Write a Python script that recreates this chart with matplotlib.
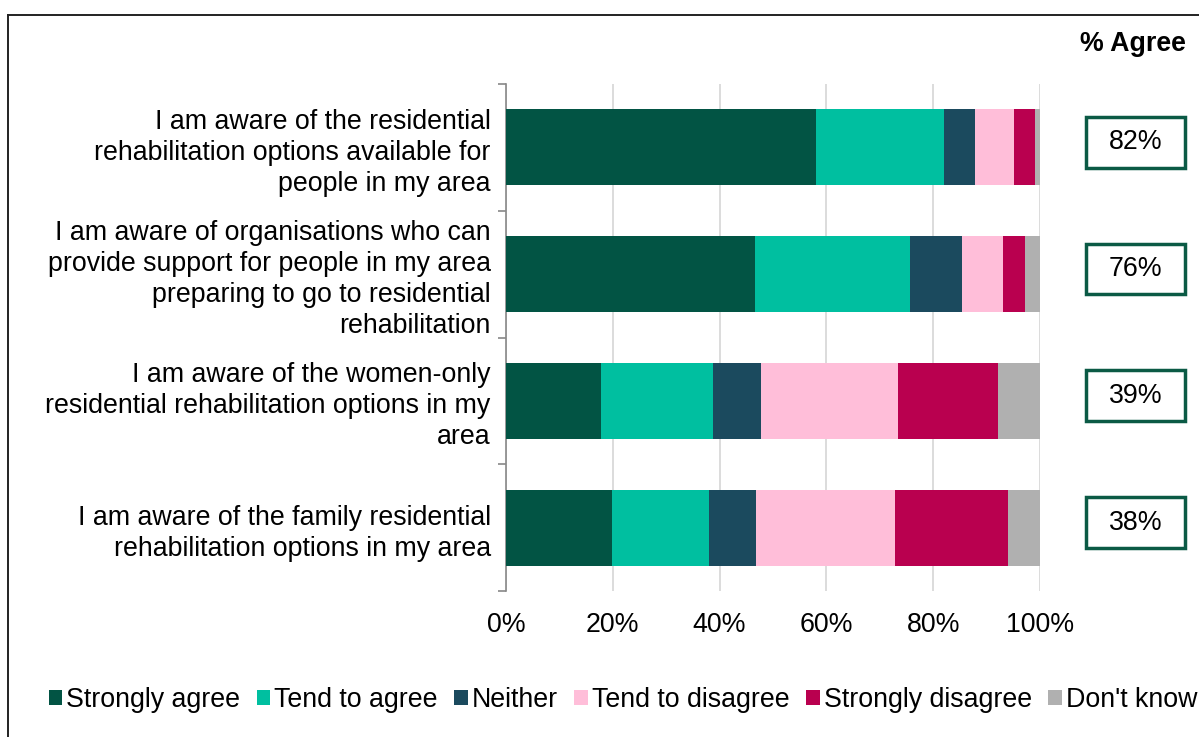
import numpy as np
import matplotlib
import matplotlib.pyplot as plt
from matplotlib.patches import Rectangle
from matplotlib.lines import Line2D
import matplotlib.transforms as mtransforms

matplotlib.use('Agg')

plt.rcParams['font.family'] = ['Liberation Sans', 'DejaVu Sans']

statements = [
    "I am aware of the residential\nrehabilitation options available for\npeople in my area",
    "I am aware of organisations who can\nprovide support for people in my area\npreparing to go to residential\nrehabilitation",
    "I am aware of the women-only\nresidential rehabilitation options in my\narea",
    "I am aware of the family residential\nrehabilitation options in my area",
]
responses = ["Strongly agree", "Tend to agree", "Neither",
             "Tend to disagree", "Strongly disagree", "Don't know"]

strongly_agree    = [58.1, 46.7, 17.8, 19.9]
tend_to_agree     = [23.9, 29.0, 21.0, 18.1]
neither           = [5.9, 9.6, 8.9, 8.8]
tend_to_disagree  = [7.2, 7.8, 25.8, 26.1]
strongly_disagree = [3.9, 4.1, 18.7, 21.1]
dont_know         = [1.0, 2.8, 7.8, 6.0]

colours = ["#025444", "#00BFA0", "#1B4A5E", "#FFBED9", "#B9004F", "#B0B0B0"]
box_green = "#0B5A45"
FS = 19.3

series = [strongly_agree, tend_to_agree, neither,
          tend_to_disagree, strongly_disagree, dont_know]

fig = plt.figure(figsize=(11.99, 7.37), dpi=100)
ax = fig.add_axes([506 / 1199, 1 - 591 / 737, 534 / 1199, 507 / 737])

y = np.arange(len(statements))
left = np.zeros(len(statements))
handles = []
for vals, col, name in zip(series, colours, responses):
    v = np.array(vals) / 100
    b = ax.barh(y, v, left=left, height=0.6, color=col, label=name, zorder=3)
    handles.append(b)
    left += v

ax.set_ylim(3.5, -0.5)
ax.set_xlim(0, 1)
ax.set_xticks(np.arange(0, 1.01, 0.2))
ax.set_xticklabels([f"{int(round(t * 100))}%" for t in np.arange(0, 1.01, 0.2)])
ax.set_yticks(y)
ax.set_yticklabels(statements, fontsize=FS, linespacing=1.25)
ax.set_yticks(np.arange(-0.5, 4, 1), minor=True)
ax.tick_params(axis='y', which='major', length=0, pad=11)
ax.tick_params(axis='y', which='minor', length=6, color='#888888', width=1.2)
ax.tick_params(axis='x', length=0, labelsize=FS, pad=15)

ax.grid(axis='x', color='#D9D9D9', linewidth=1.3, zorder=0)
for s in ['top', 'right', 'bottom']:
    ax.spines[s].set_visible(False)
ax.spines['left'].set_color('#888888')
ax.spines['left'].set_linewidth(1.2)

# % agree boxes to the right of the bars
trans = mtransforms.blended_transform_factory(ax.transAxes, ax.transData)
agree = np.array(strongly_agree) + np.array(tend_to_agree)
for yi, a in zip(y, agree):
    ax.add_patch(Rectangle((1.087, yi - 0.2 - 0.04), 0.185, 0.4, transform=trans,
                           facecolor='white', edgecolor=box_green, linewidth=2.5,
                           clip_on=False, zorder=5))
    ax.text(1.087 + 0.0925, yi - 0.04, f"{int(round(a))}%", transform=trans,
            ha='center', va='center', fontsize=FS, zorder=6)
fig.text(1133 / 1199, 1 - 44 / 737, "% Agree", ha='center', va='center',
         fontsize=FS, fontweight='bold')

# legend runs past the right edge of the canvas
fig.legend(handles=handles, labels=responses, loc='center left',
           bbox_to_anchor=(38 / 1199, 1 - 700 / 737), ncol=6, frameon=False,
           fontsize=FS, handlelength=0.5, handleheight=0.5, handletextpad=0.15,
           columnspacing=0.62, borderaxespad=0)

# outer frame (left and top edges only reach the canvas)
fig.add_artist(Line2D([8 / 1199, 8 / 1199], [0, 1 - 15 / 737], color='#222222',
                      linewidth=1.4, transform=fig.transFigure))
fig.add_artist(Line2D([8 / 1199, 1], [1 - 15 / 737, 1 - 15 / 737], color='#222222',
                      linewidth=1.4, transform=fig.transFigure))

fig.savefig('out.png', dpi=100)
